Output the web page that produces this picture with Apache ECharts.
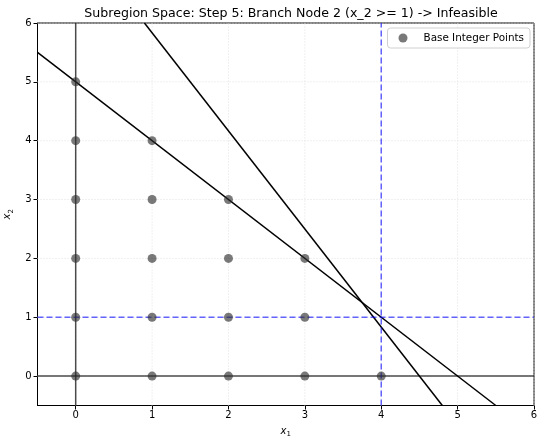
<!DOCTYPE html>
<html>
<head>
<meta charset="utf-8">
<script src="https://cdn.jsdelivr.net/npm/echarts@6/dist/echarts.min.js"></script>
<style>
html,body{margin:0;padding:0;background:#fff;}
#chart{width:537px;height:437px;}
</style>
</head>
<body>
<div id="chart"></div>
<script>
// Integer lattice points inside the base region
const basePoints = [
  [0,0],[0,1],[0,2],[0,3],[0,4],[0,5],
  [1,0],[1,1],[1,2],[1,3],[1,4],
  [2,0],[2,1],[2,2],[2,3],
  [3,0],[3,1],[3,2],
  [4,0]
];
// Constraint boundaries: x1 + x2 = 5 and 5x1 + 3x2 = 22.5
const constraintA = [[-0.5, 5.5], [5.5, -0.5]];
const constraintB = [[0.9, 6], [4.8, -0.5]];
// Branching bounds: x1 <= 4 and x2 >= 1
const branchX1 = 4;
const branchX2 = 1;
const xTicks = [0, 1, 2, 3, 4, 5, 6];
const yTicks = [0, 1, 2, 3, 4, 5, 6];

const font = 'DejaVu Sans';
const chart = echarts.init(document.getElementById('chart'));

const lineStyleK = {color: '#000', width: 1.5};
function segment(data, style, z) {
  return {
    type: 'line', data: data, symbol: 'none', silent: true,
    lineStyle: style, z: z || 3, animation: false
  };
}
// light dotted grid lines at the tick positions
const gridStyle = {color: '#e0e0e0', width: 1, type: [1, 2]};
const gridSeries = [];
xTicks.forEach(v => gridSeries.push(segment([[v, -0.5], [v, 6]], gridStyle, 1)));
yTicks.forEach(v => gridSeries.push(segment([[-0.5, v], [6, v]], gridStyle, 1)));

const subRich = {
  i: {fontFamily: font, fontSize: 10, fontStyle: 'italic', color: '#000'},
  s: {fontFamily: font, fontSize: 7, color: '#000', verticalAlign: 'bottom', padding: [6, 0, 0, 0]}
};

chart.setOption({
  animation: false,
  title: {
    text: 'Subregion Space: Step 5: Branch Node 2 (x_2 >= 1) -> Infeasible',
    left: 286, top: 2, textAlign: 'center',
    textStyle: {fontFamily: font, fontSize: 12.6, fontWeight: 'normal', color: '#000'}
  },
  legend: {
    right: 7, top: 28,
    data: ['Base Integer Points'],
    backgroundColor: '#fff', borderColor: '#d0d0d0', borderWidth: 1, borderRadius: 3,
    padding: [5, 6, 5, 11],
    itemWidth: 9, itemHeight: 9, itemGap: 8,
    textStyle: {fontFamily: font, fontSize: 10.4, color: '#000', padding: [0, 0, 0, 11]}
  },
  grid: {
    left: 37.5, right: 3, top: 23, bottom: 31.5,
    outerBoundsMode: 'none', containLabel: false,
    show: true, borderColor: '#000', borderWidth: 1, backgroundColor: 'transparent'
  },
  xAxis: {
    type: 'value', min: -0.5, max: 6,
    name: '{i|x}{s|1}', nameLocation: 'middle', nameGap: 19,
    nameTextStyle: {rich: subRich},
    axisLine: {show: true, onZero: false, lineStyle: {color: '#000'}},
    axisTick: {show: true, length: 4, lineStyle: {color: '#000'}, customValues: xTicks},
    axisLabel: {fontFamily: font, fontSize: 10, color: '#000', margin: 5, customValues: xTicks},
    splitLine: {show: false}
  },
  yAxis: {
    type: 'value', min: -0.5, max: 6,
    name: '{i|x}{s|2}', nameLocation: 'middle', nameGap: 17, nameRotate: 90,
    nameTextStyle: {rich: subRich},
    axisLine: {show: true, onZero: false, lineStyle: {color: '#000'}},
    axisTick: {show: true, length: 4, lineStyle: {color: '#000'}, customValues: yTicks},
    axisLabel: {fontFamily: font, fontSize: 10, color: '#000', margin: 6, customValues: yTicks},
    splitLine: {show: false}
  },
  series: gridSeries.concat([
    // axes through the origin
    segment([[-0.5, 0], [6, 0]], {color: 'rgba(0,0,0,0.7)', width: 1.5}),
    segment([[0, -0.5], [0, 6]], {color: 'rgba(0,0,0,0.7)', width: 1.5}),
    // constraints
    segment(constraintA, lineStyleK),
    segment(constraintB, lineStyleK),
    // branch bounds
    segment([[branchX1, -0.5], [branchX1, 6]], {color: 'rgba(0,0,255,0.6)', width: 1.5, type: [6, 3]}),
    segment([[-0.5, branchX2], [6, branchX2]], {color: 'rgba(0,0,255,0.6)', width: 1.5, type: [6, 3]}),
    {
      name: 'Base Integer Points',
      type: 'scatter', data: basePoints, symbolSize: 9, z: 5,
      itemStyle: {color: 'rgba(45,45,45,0.8)'}
    }
  ])
});
</script>
</body>
</html>
